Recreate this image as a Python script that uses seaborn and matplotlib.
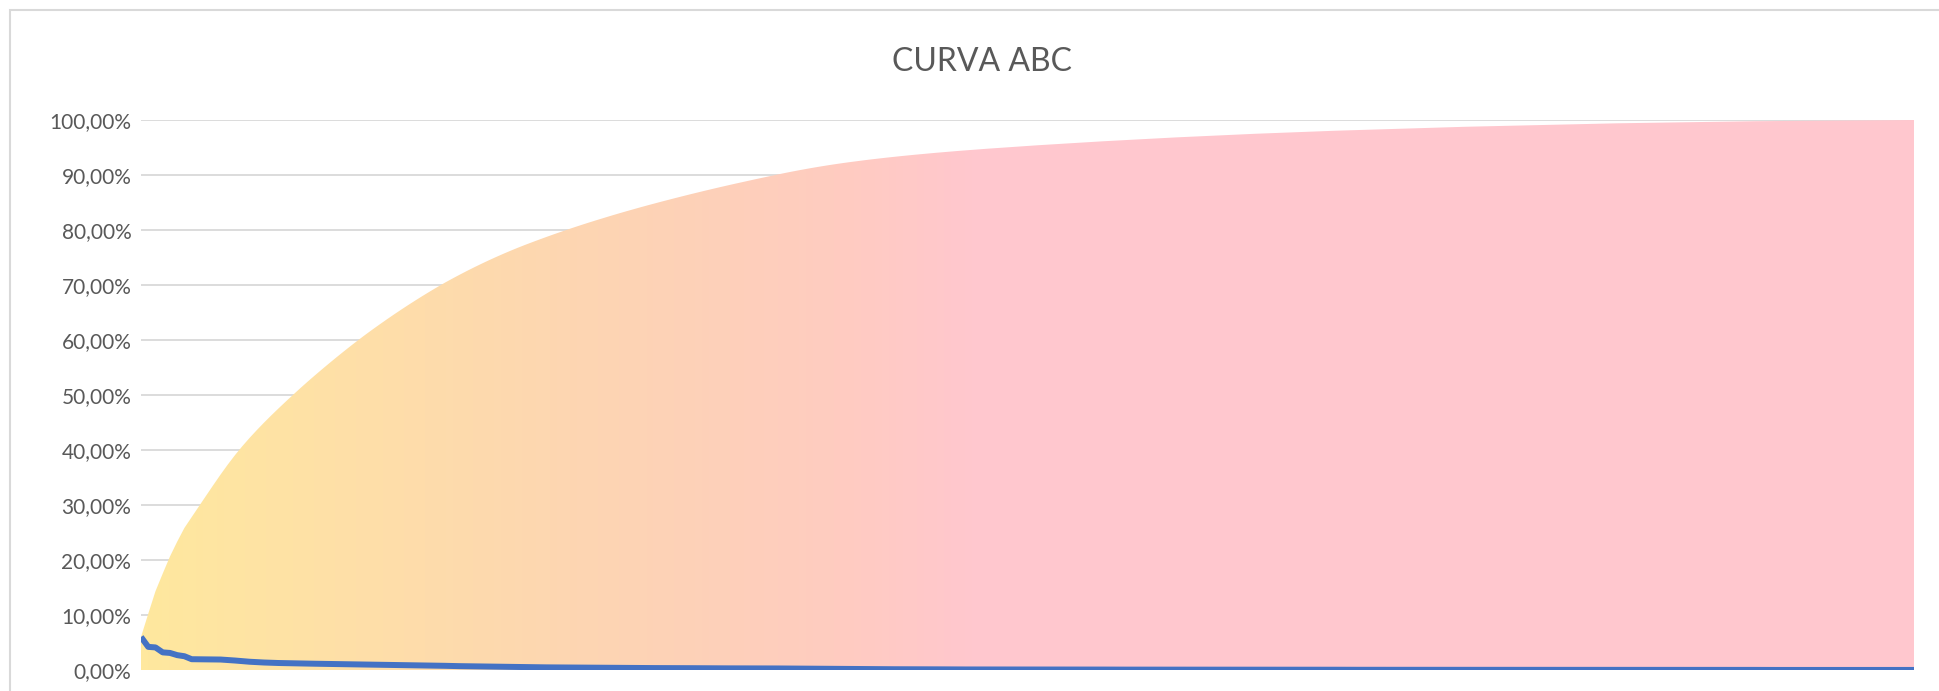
import numpy as np
import pandas as pd
import matplotlib
matplotlib.use("Agg")
import matplotlib.pyplot as plt
import seaborn as sns
from matplotlib.colors import LinearSegmentedColormap
from matplotlib.patches import Rectangle

valores = [
    6.0, 4.2, 4.1, 3.2, 3.1, 2.7, 2.5,
    1.96, 1.95, 1.95, 1.94, 1.90, 1.82, 1.72,
    1.60, 1.50, 1.42, 1.36, 1.31, 1.27, 1.24, 1.22,
    1.20, 1.17, 1.14, 1.12, 1.10, 1.08, 1.06, 1.04, 1.02,
    0.99, 0.96, 0.94, 0.92, 0.90, 0.88, 0.86, 0.84, 0.82, 0.80, 0.78, 0.76,
    0.72, 0.70, 0.68, 0.66, 0.64, 0.62, 0.60, 0.58, 0.56, 0.54, 0.52, 0.50,
    0.49, 0.48, 0.47, 0.46, 0.45, 0.44,
    0.43, 0.42, 0.41, 0.40, 0.40, 0.39, 0.38, 0.37, 0.37, 0.36, 0.35, 0.35,
    0.34, 0.34, 0.33, 0.33, 0.32, 0.32, 0.31, 0.31, 0.30, 0.30, 0.29, 0.29,
    0.29, 0.28, 0.28, 0.28,
    0.27, 0.26, 0.25, 0.24, 0.23, 0.22, 0.21, 0.20, 0.19, 0.18,
    0.17, 0.17, 0.16, 0.15, 0.15, 0.14, 0.14, 0.13, 0.13, 0.12,
    0.12, 0.12, 0.11, 0.11, 0.11, 0.10, 0.10, 0.10, 0.10, 0.09,
    0.09, 0.09, 0.09, 0.09, 0.09, 0.09, 0.08, 0.08, 0.08, 0.08,
    0.08, 0.08, 0.08, 0.08, 0.08, 0.07, 0.07, 0.07, 0.07, 0.07,
    0.07, 0.07, 0.07, 0.07, 0.07, 0.06, 0.06, 0.06, 0.06, 0.06,
    0.06, 0.06, 0.06, 0.06, 0.06, 0.06, 0.05, 0.05, 0.05, 0.05,
    0.05, 0.05, 0.05, 0.05, 0.05, 0.05, 0.05, 0.04, 0.04, 0.04,
    0.04, 0.04, 0.04, 0.04, 0.04, 0.04, 0.04, 0.04, 0.04, 0.04,
    0.04, 0.04, 0.04, 0.04, 0.04, 0.03, 0.03, 0.03, 0.03, 0.03,
    0.03, 0.03, 0.03, 0.03, 0.03, 0.03, 0.03, 0.03, 0.03, 0.03,
    0.03, 0.03, 0.03, 0.03, 0.03, 0.03, 0.02, 0.02, 0.02, 0.02,
    0.02, 0.02, 0.02, 0.02, 0.02, 0.02, 0.02, 0.02, 0.02, 0.02,
    0.02, 0.02, 0.02, 0.02, 0.02, 0.01, 0.01, 0.01, 0.01, 0.01,
    0.01, 0.01, 0.01, 0.01, 0.01, 0.01, 0.01, 0.01, 0.01, 0.01,
    0.01, 0.01, 0.01, 0.01, 0.01, 0.01, 0.01,
]
titulo = "CURVA ABC"
paradas_gradiente = [0.0, 0.07, 0.16, 0.27, 0.39, 0.47, 1.0]
cores_gradiente = ["#FFE89E", "#FEE3A4", "#FEDCAB", "#FDD4B4", "#FFCCC0", "#FFC7CE", "#FFC7CE"]

participacao = np.array(valores) / sum(valores)
df = pd.DataFrame({
    "item": np.arange(1, len(valores) + 1),
    "participacao": participacao,
    "acumulado": np.cumsum(participacao),
})

sns.set_theme(style="white")
plt.rcParams["font.family"] = ["Lato", "DejaVu Sans"]

fig = plt.figure(figsize=(19.4, 6.91), dpi=100)
ax = fig.add_axes([141 / 1940, 1 - 670 / 691, 1773 / 1940, 550 / 691])

# area acumulada com gradiente horizontal
area = ax.fill_between(df["item"], 0, df["acumulado"], color="none", lw=0)
cmap = LinearSegmentedColormap.from_list("abc", list(zip(paradas_gradiente, cores_gradiente)))
im = ax.imshow(np.linspace(0, 1, 512).reshape(1, -1), cmap=cmap, aspect="auto",
               extent=[1, len(valores), 0, 1], origin="lower", zorder=1)
im.set_clip_path(area.get_paths()[0], transform=ax.transData)

sns.lineplot(data=df, x="item", y="participacao", color="#4472C4", lw=4.3,
             ax=ax, zorder=3, solid_capstyle="butt")

ax.set_xlim(1, len(valores))
ax.set_ylim(0, 1)
ax.set_yticks(np.arange(0, 1.01, 0.1))
ax.set_yticklabels([f"{v * 100:.2f}%".replace(".", ",") for v in np.arange(0, 1.01, 0.1)],
                   fontsize=15, color="#595959")
ax.set_xticks([])
ax.set_xlabel("")
ax.set_ylabel("")
ax.yaxis.grid(True, color="#D9D9D9", lw=1.3)
ax.set_axisbelow(True)
ax.tick_params(axis="y", length=0, pad=7)
for s in ax.spines.values():
    s.set_visible(False)

fig.text(982 / 1940, 1 - 62 / 691, titulo, ha="center", va="center",
         fontsize=23, color="#595959")

fig.patches.append(Rectangle((10 / 1940, -0.1), 1.2, 1.1 - 10 / 691,
                             transform=fig.transFigure, fill=False,
                             edgecolor="#D9D9D9", lw=1.5))

fig.savefig("out.png", dpi=100)
